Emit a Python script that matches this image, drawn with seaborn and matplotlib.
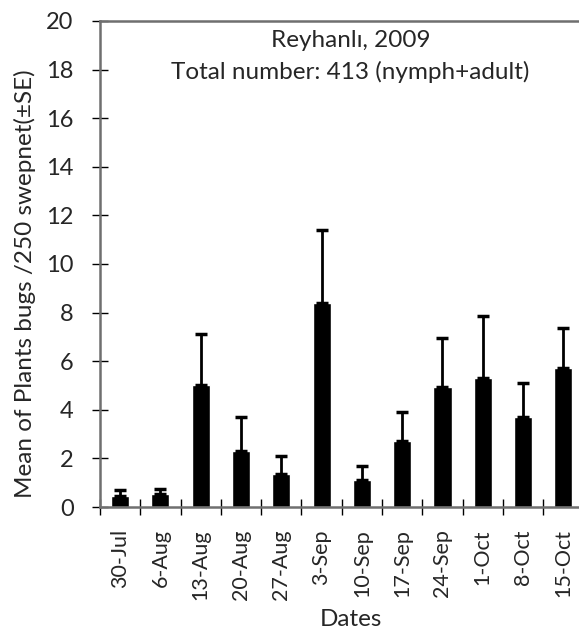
import numpy as np
import pandas as pd
import seaborn as sns
import matplotlib.pyplot as plt

# Data
dates = ['30-Jul', '6-Aug', '13-Aug', '20-Aug', '27-Aug', '3-Sep',
         '10-Sep', '17-Sep', '24-Sep', '1-Oct', '8-Oct', '15-Oct']
means = [0.45, 0.55, 5.0, 2.3, 1.35, 8.4, 1.12, 2.72, 4.92, 5.32, 3.72, 5.72]
se = [0.25, 0.2, 2.1, 1.4, 0.75, 3.0, 0.58, 1.17, 2.03, 2.53, 1.4, 1.65]

df = pd.DataFrame({'date': dates, 'mean': means, 'se': se})

sns.set_style('white')
plt.rcParams['font.family'] = ['Lato', 'DejaVu Sans']

fig = plt.figure(figsize=(5.79, 6.33), dpi=100)
fig.patch.set_facecolor('white')
ax = fig.add_axes([0.1727, 0.199, 0.835, 0.768])

sns.barplot(data=df, x='date', y='mean', color='black', width=0.45,
            saturation=1, ax=ax, errorbar=None)
ax.errorbar(np.arange(len(dates)), df['mean'], yerr=[np.zeros(len(dates)), df['se']],
            fmt='none', ecolor='black', elinewidth=2, capsize=4.5, capthick=2.5)

ax.set_xlim(-0.5, len(dates) - 0.5)
ax.set_ylim(0, 20)
ax.set_yticks(np.arange(0, 21, 2))

# ticks sit between the categories, labels at the centres
ax.set_xticks(np.arange(len(dates)))
ax.set_xticklabels(dates, rotation=90, fontsize=15.5)
ax.set_xticks(np.arange(-0.5, len(dates), 1), minor=True)
ax.tick_params(axis='x', which='major', length=0, pad=16)
ax.tick_params(axis='x', which='minor', direction='inout', length=12, width=1, color='black', bottom=True)
ax.tick_params(axis='y', direction='inout', length=12, width=1, color='black', left=True, labelsize=17, pad=13)

for s in ax.spines.values():
    s.set_color('#6f6f6f')
    s.set_linewidth(1.8)

ax.set_ylabel('Mean of Plants bugs /250 swepnet(\u00b1SE)', fontsize=17.5, va='center')
ax.yaxis.set_label_coords(-0.155, 0.459)
ax.set_xlabel('Dates', fontsize=17.5, va='center')
ax.xaxis.set_label_coords(0.519, -0.232)

fig.text(0.605, 0.936, 'Reyhanl\u0131, 2009', fontsize=17.5, ha='center', va='center')
fig.text(0.605, 0.886, 'Total number: 413 (nymph+adult)', fontsize=17.5, ha='center', va='center')

fig.savefig('out.png', dpi=100)
